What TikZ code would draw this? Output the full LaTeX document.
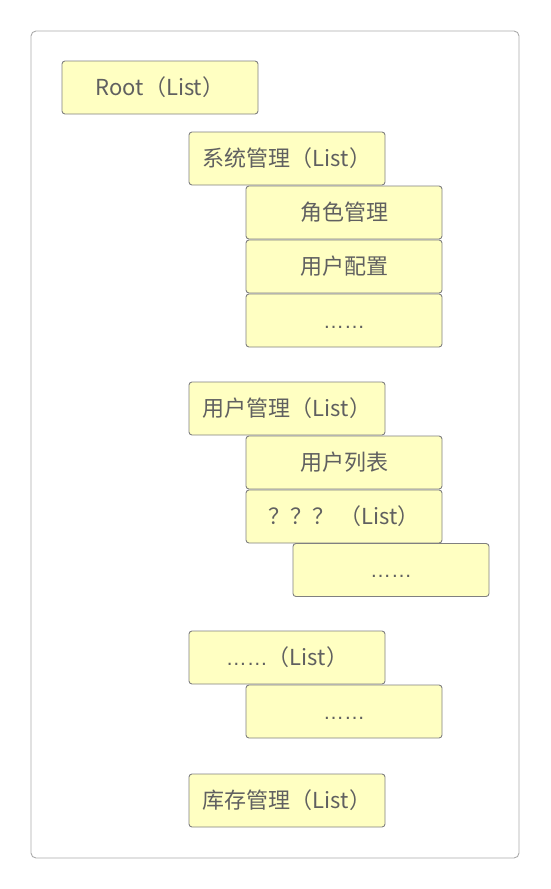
\documentclass[tikz,border=0pt]{standalone}
\usepackage{fontspec}
\setmainfont{Noto Sans CJK SC}
\newfontfamily\dotfont{Liberation Sans}
\definecolor{boxfill}{RGB}{255,255,194}
\definecolor{boxline}{RGB}{128,128,128}
\definecolor{boxtext}{RGB}{96,96,96}
\definecolor{frameline}{RGB}{170,170,170}

\tikzstyle{bo1}=[rectangle,fill=boxfill,draw=boxline,line width=0.9pt,rounded corners=3pt,minimum height=53pt,minimum width=196pt,inner sep=0pt,align=center,text=boxtext,font=\fontsize{22}{26}\selectfont]
\tikzstyle{fr1}=[draw=frameline,rounded corners=5pt,line width=0.9pt]

\newcommand{\sixdots}{{\vphantom{用}\dotfont\fontsize{21}{24}\selectfont ……}}

\begin{document}
\begin{tikzpicture}[x=1pt,y=-1pt]

\useasboundingbox (0,0) rectangle (550,889);
\draw [fr1] (31,31) rectangle (519,858);

%Root
\node [bo1] at (160,87.5) (root) {Root（List）};

%System management
\node [bo1] at (287,158.5) (sys) {系统管理（List）};
\node [bo1] at (344,212.5) (role) {角色管理};
\node [bo1] at (344,266.5) (ucfg) {用户配置};
\node [bo1] at (344,320.5) (sysmore) {\sixdots};

%User management
\node [bo1] at (287,408.5) (user) {用户管理（List）};
\node [bo1] at (344,462.5) (ulist) {用户列表};
\node [bo1] at (344,516.5) (unk) {？？？ （List）};
\node [bo1] at (391,570) (unkmore) {\sixdots};

%Others
\node [bo1] at (287,657.5) (other) {\sixdots（List）};
\node [bo1] at (344,711.5) (othermore) {\sixdots};

%Stock
\node [bo1] at (287,800.5) (stock) {库存管理（List）};

\end{tikzpicture}
\end{document}
